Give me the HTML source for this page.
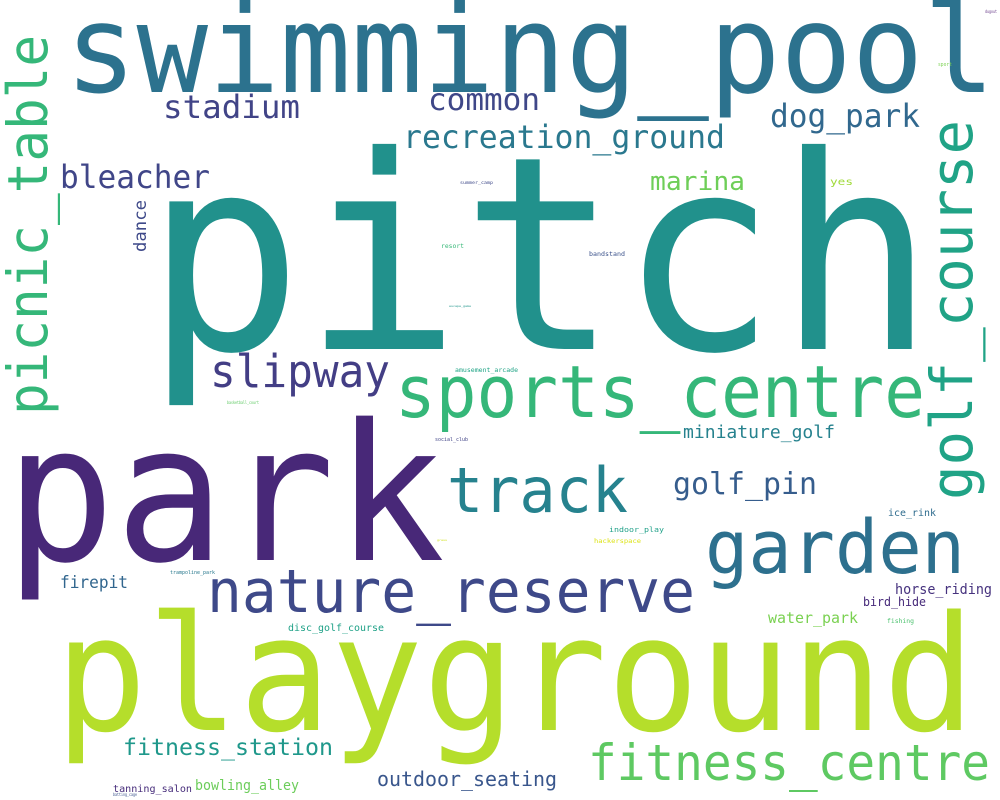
<!DOCTYPE html>
<html><head><meta charset="utf-8"><style>
html,body{margin:0;padding:0;background:#fff;width:1000px;height:800px;overflow:hidden}
svg text{font-family:"DejaVu Sans Mono","Liberation Mono",monospace}
</style></head><body>
<svg width="1000" height="800" viewBox="0 0 1000 800" xmlns="http://www.w3.org/2000/svg">
<rect width="1000" height="800" fill="#fff"/>
<g>
<text x="145" y="349" font-size="270" fill="#21918c" textLength="790" lengthAdjust="spacingAndGlyphs">pitch</text>
<text x="5" y="560" font-size="190" fill="#482878" textLength="440" lengthAdjust="spacingAndGlyphs">park</text>
<text x="55" y="730" font-size="160" fill="#b5de2b" textLength="920" lengthAdjust="spacingAndGlyphs">playground</text>
<text x="65" y="92" font-size="122" fill="#2c728e" textLength="930" lengthAdjust="spacingAndGlyphs">swimming_pool</text>
<text x="395" y="417" font-size="72" fill="#35b779" textLength="530" lengthAdjust="spacingAndGlyphs">sports_centre</text>
<text x="705" y="573" font-size="74" fill="#2d708e" textLength="260" lengthAdjust="spacingAndGlyphs">garden</text>
<text x="207" y="612" font-size="60" fill="#3e4989" textLength="488" lengthAdjust="spacingAndGlyphs">nature_reserve</text>
<text x="447" y="512" font-size="62" fill="#26828e" textLength="181" lengthAdjust="spacingAndGlyphs">track</text>
<text transform="translate(47,415) rotate(-90)" font-size="55" fill="#35b779" textLength="380" lengthAdjust="spacingAndGlyphs">picnic_table</text>
<text transform="translate(972,500) rotate(-90)" font-size="58" fill="#20a386" textLength="380" lengthAdjust="spacingAndGlyphs">golf_course</text>
<text x="588" y="780" font-size="50" fill="#5ec962" textLength="402" lengthAdjust="spacingAndGlyphs">fitness_centre</text>
<text x="210" y="387" font-size="45" fill="#433e85" textLength="180" lengthAdjust="spacingAndGlyphs">slipway</text>
<text x="163" y="118" font-size="32" fill="#414487" textLength="137" lengthAdjust="spacingAndGlyphs">stadium</text>
<text x="428" y="110" font-size="30" fill="#3f4788" textLength="112" lengthAdjust="spacingAndGlyphs">common</text>
<text x="403" y="148" font-size="32" fill="#2a788e" textLength="322" lengthAdjust="spacingAndGlyphs">recreation_ground</text>
<text x="770" y="127" font-size="32" fill="#31688e" textLength="150" lengthAdjust="spacingAndGlyphs">dog_park</text>
<text x="60" y="188" font-size="32" fill="#404688" textLength="150" lengthAdjust="spacingAndGlyphs">bleacher</text>
<text x="650" y="190" font-size="26" fill="#6ece58" textLength="95" lengthAdjust="spacingAndGlyphs">marina</text>
<text x="673" y="494" font-size="30" fill="#365d8d" textLength="144" lengthAdjust="spacingAndGlyphs">golf_pin</text>
<text x="683" y="438" font-size="18" fill="#26828e" textLength="152" lengthAdjust="spacingAndGlyphs">miniature_golf</text>
<text x="123" y="755" font-size="23" fill="#1f988b" textLength="210" lengthAdjust="spacingAndGlyphs">fitness_station</text>
<text x="377" y="786" font-size="20" fill="#39568c" textLength="180" lengthAdjust="spacingAndGlyphs">outdoor_seating</text>
<text x="195" y="790" font-size="14" fill="#6ccd5a" textLength="104" lengthAdjust="spacingAndGlyphs">bowling_alley</text>
<text x="113" y="792" font-size="10" fill="#472d7b" textLength="79" lengthAdjust="spacingAndGlyphs">tanning_salon</text>
<text x="113" y="796" font-size="4" fill="#3b528b" textLength="24" lengthAdjust="spacingAndGlyphs">batting_cage</text>
<text x="60" y="588" font-size="17" fill="#31668e" textLength="68" lengthAdjust="spacingAndGlyphs">firepit</text>
<text x="768" y="623" font-size="15" fill="#7ad151" textLength="90" lengthAdjust="spacingAndGlyphs">water_park</text>
<text x="288" y="631" font-size="10" fill="#1fa187" textLength="96" lengthAdjust="spacingAndGlyphs">disc_golf_course</text>
<text x="895" y="594" font-size="14" fill="#46327e" textLength="97" lengthAdjust="spacingAndGlyphs">horse_riding</text>
<text x="863" y="606" font-size="12" fill="#472a7a" textLength="63" lengthAdjust="spacingAndGlyphs">bird_hide</text>
<text x="888" y="516" font-size="10" fill="#2f6c8e" textLength="48" lengthAdjust="spacingAndGlyphs">ice_rink</text>
<text x="887" y="623" font-size="6" fill="#4ac16d" textLength="27" lengthAdjust="spacingAndGlyphs">fishing</text>
<text x="609" y="532" font-size="7" fill="#1fa088" textLength="55" lengthAdjust="spacingAndGlyphs">indoor_play</text>
<text x="594" y="543" font-size="6" fill="#dde318" textLength="47" lengthAdjust="spacingAndGlyphs">hackerspace</text>
<text x="437" y="541" font-size="3" fill="#d0e11c" textLength="10" lengthAdjust="spacingAndGlyphs">grass</text>
<text x="170" y="574" font-size="5" fill="#29798e" textLength="45" lengthAdjust="spacingAndGlyphs">trampoline_park</text>
<text x="435" y="441" font-size="5" fill="#414487" textLength="33" lengthAdjust="spacingAndGlyphs">social_club</text>
<text x="455" y="372" font-size="6" fill="#20a486" textLength="63" lengthAdjust="spacingAndGlyphs">amusement_arcade</text>
<text x="227" y="404" font-size="4" fill="#5ec962" textLength="32" lengthAdjust="spacingAndGlyphs">basketball_court</text>
<text transform="translate(146,252) rotate(-90)" font-size="17" fill="#3e4989" textLength="52" lengthAdjust="spacingAndGlyphs">dance</text>
<text x="830" y="185" font-size="10" fill="#a0da39" textLength="23" lengthAdjust="spacingAndGlyphs">yes</text>
<text x="441" y="248" font-size="6" fill="#37b878" textLength="23" lengthAdjust="spacingAndGlyphs">resort</text>
<text x="589" y="256" font-size="6" fill="#3b528b" textLength="36" lengthAdjust="spacingAndGlyphs">bandstand</text>
<text x="460" y="184" font-size="4" fill="#3e4989" textLength="33" lengthAdjust="spacingAndGlyphs">summer_camp</text>
<text x="449" y="307" font-size="3" fill="#1f958b" textLength="22" lengthAdjust="spacingAndGlyphs">escape_game</text>
<text x="938" y="66" font-size="5" fill="#7ad151" textLength="14" lengthAdjust="spacingAndGlyphs">sport</text>
<text x="985" y="13" font-size="4" fill="#6a3d8a" textLength="12" lengthAdjust="spacingAndGlyphs">dugout</text>
</g>
</svg>
</body></html>
